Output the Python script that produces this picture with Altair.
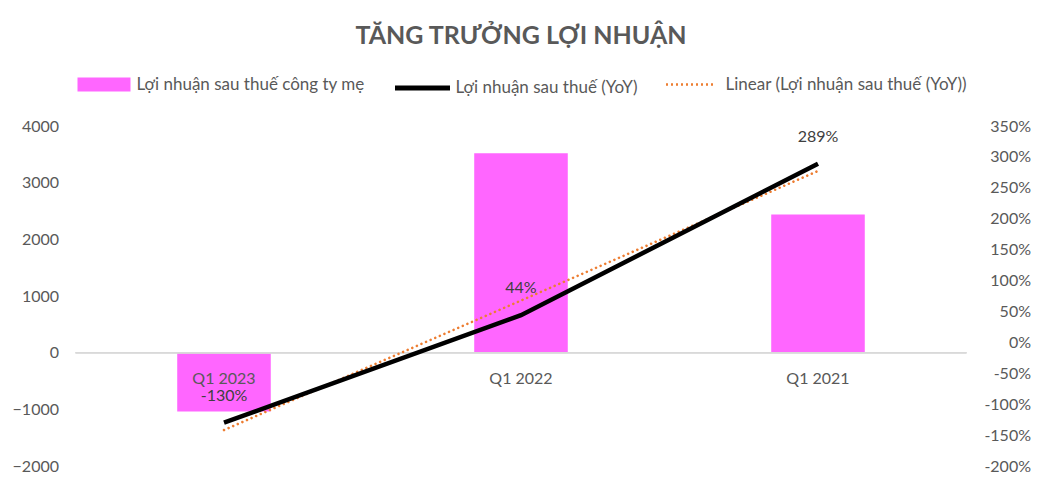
import altair as alt
import pandas as pd
import numpy as np

categories = ["Q1 2023", "Q1 2022", "Q1 2021"]
profit = [-1040, 3520, 2440]
yoy = [-130, 44, 289]
yoy_labels = ["-130%", "44%", "289%"]

S1 = "Lợi nhuận sau thuế công ty mẹ"
S2 = "Lợi nhuận sau thuế (YoY)"
S3 = "Linear (Lợi nhuận sau thuế (YoY))"

idx = np.arange(1, len(categories) + 1)
slope, intercept = np.polyfit(idx, yoy, 1)
trend = slope * idx + intercept

df = pd.DataFrame({
    "cat": categories,
    "profit": profit,
    "yoy": yoy,
    "yoy_label": yoy_labels,
    "trend": trend,
    "zero": [0] * len(categories),
    "s1": [S1] * 3,
    "s2": [S2] * 3,
    "s3": [S3] * 3,
})

FONT = "Lato"
GRAY = "#595959"

x = alt.X("cat:N", sort=categories, axis=None,
          scale=alt.Scale(paddingInner=0.685, paddingOuter=0.3425))
yl = alt.Scale(domain=[-2000, 4000], nice=False, zero=False)
yr = alt.Scale(domain=[-200, 350], nice=False, zero=False)

base = alt.Chart(df)

leg_common = dict(orient="none", title=None, labelFont=FONT, labelFontSize=17,
                  labelColor=GRAY, labelLimit=400, direction="horizontal")
LEG_Y = -68

bars = base.mark_bar().encode(
    x=x,
    y=alt.Y("profit:Q", scale=yl,
            axis=alt.Axis(values=list(range(-2000, 4001, 1000)), title=None, format="d",
                          domain=False, ticks=False, grid=False, labelPadding=17,
                          labelOverlap=False,
                          labelFont=FONT, labelFontSize=16, labelColor=GRAY)),
    fill=alt.Fill("s1:N", scale=alt.Scale(domain=[S1], range=["#FF66FF"]),
                  legend=alt.Legend(symbolType="M-1,-0.26H1V0.26H-1Z", symbolSize=2809,
                                    symbolStrokeWidth=0, symbolOpacity=1, labelOffset=6,
                                    legendX=2, legendY=LEG_Y, **leg_common)),
)

zero_rule = base.mark_rule(color="#d9d9d9", strokeWidth=1.5).encode(
    y=alt.Y("zero:Q", scale=yl),
    x=alt.value(0), x2=alt.value(891),
)

cat_text = base.mark_text(font=FONT, fontSize=16, color=GRAY, dy=26).encode(
    x=x, y=alt.Y("zero:Q", scale=yl), text="cat:N",
)

left = alt.layer(bars, zero_rule, cat_text)

right_axis = alt.Axis(orient="right", values=list(range(-200, 351, 50)),
                      labelExpr="datum.value + '%'", title=None,
                      domain=False, ticks=False, grid=False, labelPadding=64,
                      labelAlign="right", labelOverlap=False,
                      labelFont=FONT, labelFontSize=16, labelColor=GRAY)

trend_line = base.mark_line(strokeWidth=2.6, strokeDash=[0.01, 5], strokeCap="round").encode(
    x=x,
    y=alt.Y("trend:Q", scale=yr, axis=right_axis),
    stroke=alt.Stroke("s3:N", scale=alt.Scale(domain=[S3], range=["#ED7D31"]),
                      legend=alt.Legend(symbolType="stroke", symbolSize=2500,
                                        symbolStrokeWidth=2.4, symbolDash=[2, 3],
                                        labelOffset=8,
                                        legendX=589, legendY=LEG_Y, **leg_common)),
)

line = base.mark_line(strokeWidth=4.5).encode(
    x=x,
    y=alt.Y("yoy:Q", scale=yr, axis=right_axis),
    stroke=alt.Stroke("s2:N", scale=alt.Scale(domain=[S2], range=["black"]),
                      legend=alt.Legend(symbolType="stroke", symbolSize=3025,
                                        symbolStrokeWidth=5, labelOffset=3,
                                        legendX=317, legendY=LEG_Y,
                                        **leg_common)),
)

labels = base.mark_text(font=FONT, fontSize=16, color="#404040", dy=-27).encode(
    x=x, y=alt.Y("yoy:Q", scale=yr, axis=right_axis), text="yoy_label:N",
)

right = alt.layer(trend_line, line, labels).resolve_scale(stroke="independent")

chart = alt.layer(left, right).resolve_scale(
    y="independent", stroke="independent"
).properties(
    width=891, height=340,
    background="white",
    title=alt.TitleParams("TĂNG TRƯỞNG LỢI NHUẬN", font=FONT, fontSize=25,
                          fontWeight="bold", color=GRAY, anchor="middle", offset=9),
    autosize=alt.AutoSizeParams(type="none"),
    padding={"left": 67.5, "top": 118, "right": 71.5, "bottom": 16},
).configure_axis(labelOverlap=False).configure_view(stroke="transparent", strokeWidth=0)

chart.save("out.html", embed_options={"renderer": "svg", "actions": False})
